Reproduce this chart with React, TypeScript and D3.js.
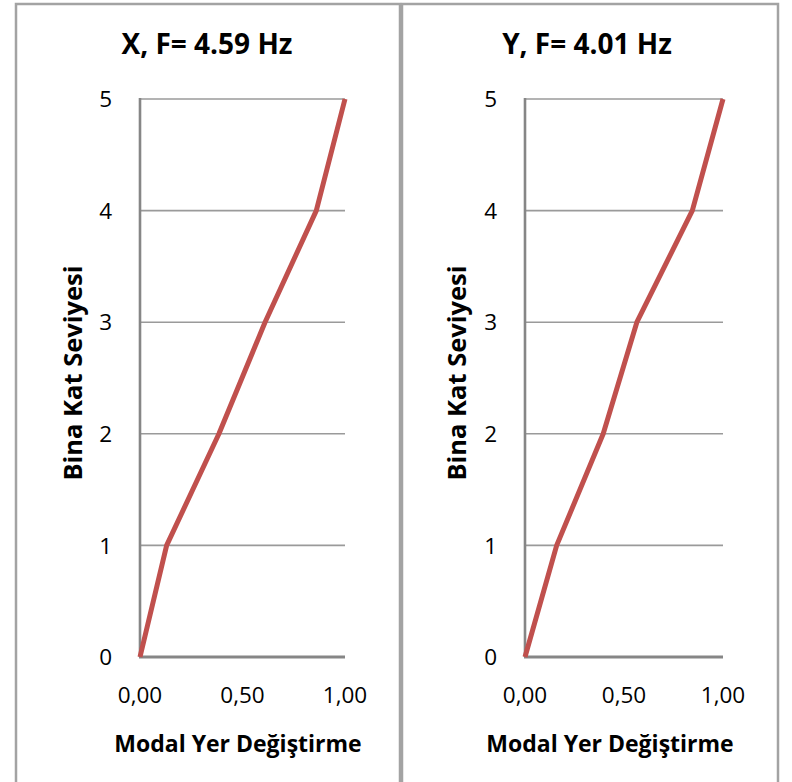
import React, { useRef, useEffect } from 'react'
import * as d3 from 'd3'

// floor levels and normalised modal displacement for each direction
const levels = [0, 1, 2, 3, 4, 5]
const modalX = [0, 0.13, 0.385, 0.61, 0.86, 1.0]
const modalY = [0, 0.16, 0.395, 0.565, 0.845, 1.0]
const xTicks = [0, 0.5, 1]
const yTicks = [0, 1, 2, 3, 4, 5]
const titles = ['X, F= 4.59 Hz', 'Y, F= 4.01 Hz']

const FONT = '"Open Sans", Lato, sans-serif'

interface PanelCfg {
  frame: [number, number]
  plotX: [number, number]
  values: number[]
  title: string
  titleX: number
  xTitleX: number
  yTitleX: number
}

const panels: PanelCfg[] = [
  { frame: [16, 400], plotX: [140, 345], values: modalX, title: titles[0], titleX: 207, xTitleX: 238, yTitleX: 82 },
  { frame: [402, 778], plotX: [525, 723], values: modalY, title: titles[1], titleX: 587, xTitleX: 610, yTitleX: 466 },
]

export default function App() {
  const svgRef = useRef<SVGSVGElement>(null)
  const width = 792
  const height = 782

  useEffect(() => {
    if (!svgRef.current) return
    const svg = d3.select(svgRef.current)
    svg.selectAll('*').remove()

    const plotTop = 99
    const plotBottom = 657

    svg.append('rect')
      .attr('width', width)
      .attr('height', height)
      .attr('fill', 'white')

    panels.forEach(p => {
      const g = svg.append('g')

      // panel frame (bottom runs off the picture)
      g.append('rect')
        .attr('x', p.frame[0])
        .attr('y', 4)
        .attr('width', p.frame[1] - p.frame[0])
        .attr('height', height + 20)
        .attr('fill', 'none')
        .attr('stroke', '#a3a3a3')
        .attr('stroke-width', 2.5)

      const x = d3.scaleLinear().domain([0, 1]).range(p.plotX)
      const y = d3.scaleLinear().domain([0, 5]).range([plotBottom, plotTop])

      // gridlines
      g.selectAll('.grid')
        .data(yTicks.filter(t => t > 0))
        .join('line')
        .attr('x1', x(0))
        .attr('x2', x(1))
        .attr('y1', d => y(d))
        .attr('y2', d => y(d))
        .attr('stroke', '#9a9a9a')
        .attr('stroke-width', 1.6)

      // axes
      g.append('line')
        .attr('x1', x(0)).attr('x2', x(0))
        .attr('y1', y(5) - 1).attr('y2', y(0))
        .attr('stroke', '#868686')
        .attr('stroke-width', 2.6)
      g.append('line')
        .attr('x1', x(0) - 1).attr('x2', x(1))
        .attr('y1', y(0)).attr('y2', y(0))
        .attr('stroke', '#868686')
        .attr('stroke-width', 3)

      // y tick labels
      g.selectAll('.ytick')
        .data(yTicks)
        .join('text')
        .attr('x', x(0) - 28)
        .attr('y', d => y(d))
        .attr('dy', '0.36em')
        .attr('text-anchor', 'end')
        .attr('font-family', FONT)
        .attr('font-size', 22.5)
        .attr('fill', '#000')
        .text(d => String(d))

      // x tick labels
      g.selectAll('.xtick')
        .data(xTicks)
        .join('text')
        .attr('x', d => x(d))
        .attr('y', 703)
        .attr('text-anchor', 'middle')
        .attr('font-family', FONT)
        .attr('font-size', 22.5)
        .attr('fill', '#000')
        .text(d => d3.format('.2f')(d).replace('.', ','))

      // mode shape line
      const line = d3.line<number>()
        .x(d => x(d))
        .y((_, i) => y(levels[i]))
      g.append('path')
        .datum(p.values)
        .attr('d', line)
        .attr('fill', 'none')
        .attr('stroke', '#c0504d')
        .attr('stroke-width', 5)
        .attr('stroke-linejoin', 'round')

      // title
      g.append('text')
        .attr('x', p.titleX)
        .attr('y', 54)
        .attr('text-anchor', 'middle')
        .attr('font-family', FONT)
        .attr('font-weight', 'bold')
        .attr('font-size', 28)
        .text(p.title)

      // y axis title
      g.append('text')
        .attr('transform', `translate(${p.yTitleX}, 373) rotate(-90)`)
        .attr('text-anchor', 'middle')
        .attr('font-family', FONT)
        .attr('font-weight', 'bold')
        .attr('font-size', 25.5)
        .text('Bina Kat Seviyesi')

      // x axis title
      g.append('text')
        .attr('x', p.xTitleX)
        .attr('y', 752)
        .attr('text-anchor', 'middle')
        .attr('font-family', FONT)
        .attr('font-weight', 'bold')
        .attr('font-size', 23)
        .text('Modal Yer Değiştirme')
    })
  }, [])

  return (
    <svg
      ref={svgRef}
      width={width}
      height={height}
      style={{ position: 'absolute', left: 0, top: 0, display: 'block' }}
    />
  )
}
